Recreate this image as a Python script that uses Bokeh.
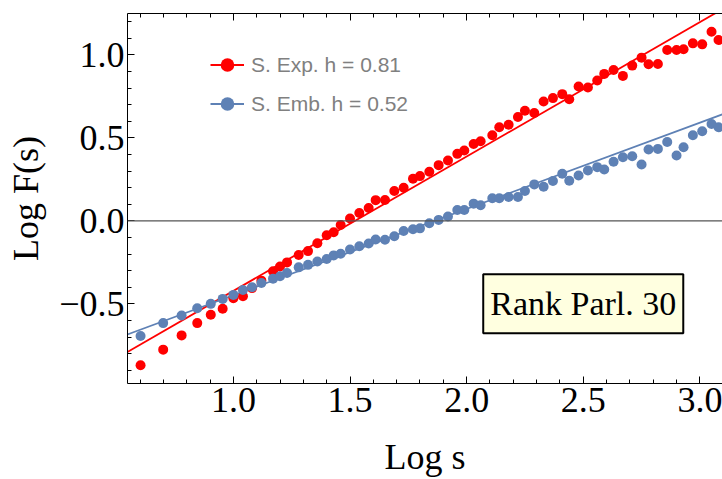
from bokeh.plotting import figure
from bokeh.models import (Range1d, LinearAxis, SingleIntervalTicker, Span, Label,
                          Legend, LegendItem, CustomJSTickFormatter, ColumnDataSource)
from bokeh.embed import file_html
from bokeh.resources import INLINE

# ---- data ----
log_s = [0.602, 0.699, 0.778, 0.845, 0.903, 0.954, 1.000, 1.041, 1.08, 1.12,
         1.17, 1.20, 1.23, 1.28, 1.32, 1.36, 1.40, 1.43, 1.46, 1.50,
         1.54, 1.58, 1.61, 1.65, 1.69, 1.73, 1.77, 1.80, 1.84, 1.88,
         1.92, 1.96, 1.99, 2.03, 2.06, 2.11, 2.14, 2.18, 2.22, 2.25,
         2.29, 2.33, 2.37, 2.41, 2.44, 2.48, 2.52, 2.56, 2.59, 2.63,
         2.67, 2.71, 2.75, 2.78, 2.82, 2.86, 2.90, 2.93, 2.97, 3.01,
         3.05, 3.08]

exp_logF = [-0.870, -0.776, -0.690, -0.616, -0.566, -0.530, -0.466, -0.454, -0.405, -0.360,
            -0.303, -0.275, -0.250, -0.206, -0.182, -0.135, -0.086, -0.068, -0.025, 0.014,
            0.048, 0.078, 0.125, 0.126, 0.180, 0.200, 0.254, 0.270, 0.296, 0.336,
            0.364, 0.404, 0.424, 0.464, 0.480, 0.516, 0.564, 0.580, 0.626, 0.664,
            0.650, 0.720, 0.740, 0.764, 0.733, 0.810, 0.804, 0.846, 0.886, 0.910,
            0.874, 0.936, 0.984, 0.944, 0.946, 1.030, 1.030, 1.034, 1.070, 1.064,
            1.140, 1.090]

emb_logF = [-0.694, -0.616, -0.570, -0.526, -0.500, -0.470, -0.446, -0.416, -0.400, -0.374,
            -0.348, -0.334, -0.314, -0.280, -0.265, -0.245, -0.230, -0.208, -0.198, -0.172,
            -0.153, -0.136, -0.112, -0.114, -0.092, -0.061, -0.050, -0.045, -0.014, 0.006,
            0.026, 0.066, 0.066, 0.104, 0.094, 0.136, 0.136, 0.144, 0.144, 0.180,
            0.220, 0.206, 0.240, 0.284, 0.242, 0.274, 0.304, 0.324, 0.310, 0.356,
            0.384, 0.390, 0.340, 0.430, 0.434, 0.476, 0.394, 0.444, 0.516, 0.540,
            0.584, 0.564]

# fitted lines (slope h, intercept)
h_exp, b_exp = 0.81, -1.232
h_emb, b_emb = 0.52, -0.968
fit_x = [0.4, 3.3]

label_exp = "S. Exp. h = 0.81"
label_emb = "S. Emb. h = 0.52"
box_text = "Rank Parl. 30"

RED = "#ff0000"
BLUE = "#5e81b5"
SERIF = "Liberation Serif"

p = figure(width=722, height=479, output_backend="svg", toolbar_location=None,
           x_range=Range1d(0.546, 3.097), y_range=Range1d(-0.98, 1.25),
           min_border_left=127, min_border_right=0, min_border_top=13,
           min_border_bottom=94, outline_line_color=None,
           background_fill_color="white", border_fill_color="white")
p.xgrid.visible = False
p.ygrid.visible = False

fmt = CustomJSTickFormatter(code="return tick.toFixed(1).replace('-', '\\u2212')")


def style_axis(ax):
    ax.ticker = SingleIntervalTicker(interval=0.5, num_minor_ticks=5)
    ax.major_tick_in = 7
    ax.major_tick_out = 0
    ax.minor_tick_in = 4
    ax.minor_tick_out = 0
    ax.axis_line_color = "black"
    ax.major_tick_line_color = "black"
    ax.minor_tick_line_color = "black"
    ax.major_label_text_font = SERIF
    ax.major_label_text_font_size = "36px"
    ax.major_label_text_color = "black"
    ax.axis_label_text_font = SERIF
    ax.axis_label_text_font_size = "36px"
    ax.axis_label_text_font_style = "normal"
    ax.axis_label_text_color = "black"
    ax.formatter = fmt


xa = p.xaxis[0]
ya = p.yaxis[0]
style_axis(xa)
style_axis(ya)
xa.axis_label = "Log s"
ya.axis_label = "Log F(s)"
xa.major_label_standoff = 4
xa.axis_label_standoff = 22
ya.major_label_standoff = 3
ya.axis_label_standoff = 10

# top frame edge with ticks only (labels not drawn)
top = LinearAxis()
style_axis(top)
top.major_label_text_font_size = "1px"
top.major_label_text_color = None
top.major_label_standoff = 0
p.add_layout(top, "above")

p.add_layout(Span(location=0, dimension="width", line_color="#555555", line_width=1.2))

fit_src = ColumnDataSource(dict(
    x=fit_x,
    y_exp=[h_exp * x + b_exp for x in fit_x],
    y_emb=[h_emb * x + b_emb for x in fit_x],
))
pts = ColumnDataSource(dict(x=log_s, exp=exp_logF, emb=emb_logF))

l_exp = p.line("x", "y_exp", source=fit_src, line_color=RED, line_width=1.8)
l_emb = p.line("x", "y_emb", source=fit_src, line_color=BLUE, line_width=1.8)
s_exp = p.scatter("x", "exp", source=pts, size=10, fill_color=RED, line_color=None)
s_emb = p.scatter("x", "emb", source=pts, size=10, fill_color=BLUE, line_color=None)

legend = Legend(items=[LegendItem(label=label_exp, renderers=[l_exp, s_exp]),
                       LegendItem(label=label_emb, renderers=[l_emb, s_emb])],
                location=(83, 260), padding=0, margin=0, spacing=0,
                glyph_width=34, glyph_height=39, label_height=39, label_standoff=7,
                border_line_color=None, background_fill_alpha=0,
                label_text_color="#808080", label_text_font="Liberation Sans",
                label_text_font_size="21px")
p.add_layout(legend)

p.add_layout(Label(x=2.5, y=-0.5, text=box_text, text_align="center",
                   text_baseline="middle", text_font=SERIF, text_font_size="34px",
                   text_color="black", background_fill_color="#ffffe0",
                   border_line_color="black", border_line_width=2,
                   padding=dict(left=7, right=7, top=11, bottom=11)))

open("out.html", "w").write(file_html(p, INLINE))
